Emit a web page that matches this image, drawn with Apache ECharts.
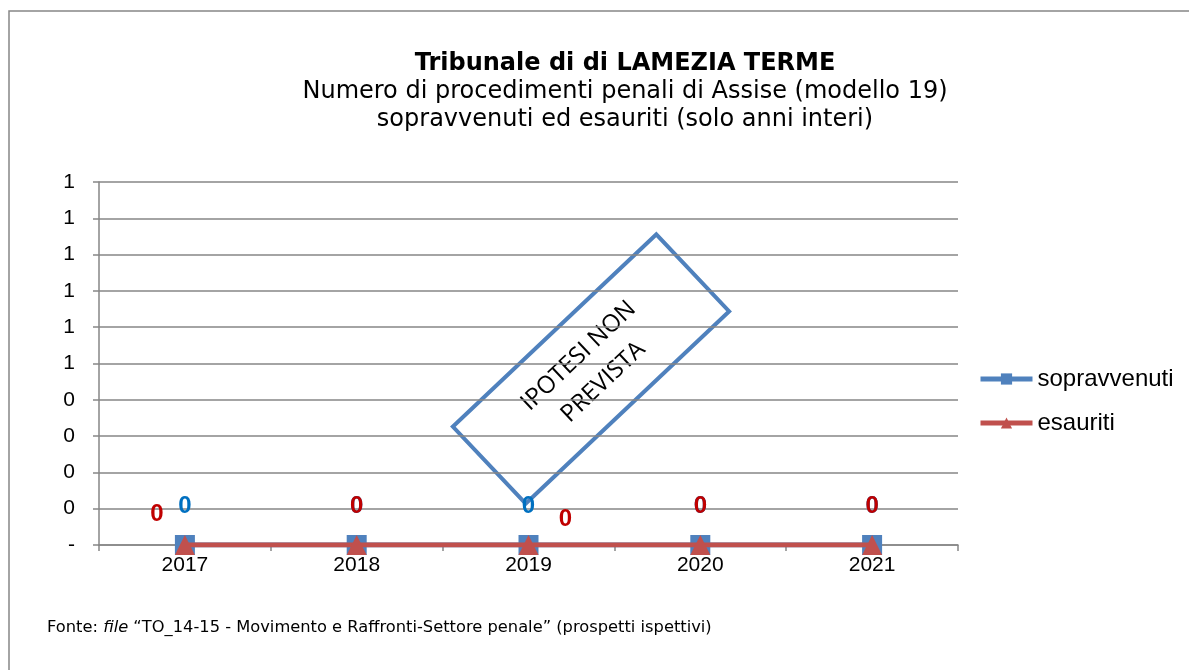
<!DOCTYPE html>
<html>
<head>
<meta charset="utf-8">
<script src="https://cdn.jsdelivr.net/npm/echarts@6/dist/echarts.min.js"></script>
<style>
html,body{margin:0;padding:0;background:#fff;}
#chart{width:1189px;height:670px;}
</style>
</head>
<body>
<div id="chart"></div>
<script>
// data
const years=["2017","2018","2019","2020","2021"];
const sopravvenuti=[0,0,0,0,0];
const esauriti=[0,0,0,0,0];

const titleText="Tribunale di di LAMEZIA TERME";
const subText="Numero di procedimenti penali di Assise (modello 19)\nsopravvenuti ed esauriti (solo anni interi)";
const boxText="IPOTESI NON\nPREVISTA";

const BLUE="#4F81BD";
const RED="#C0504D";
const LBL_BLUE="#0070C0";
const LBL_RED="#C00000";
const GRAY="#868686";
const ARIAL="Liberation Sans";

// label offsets for the esauriti values, per year
const redOffsets=[[-28,8],[0,0],[37,13],[0,0],[0,0]];

const chart=echarts.init(document.getElementById("chart"));

chart.setOption({
    animation:false,
    textStyle:{fontFamily:ARIAL},
    title:[
        {
            text:titleText,
            left:625,
            top:50,
            textAlign:"center",
            padding:0,
            textStyle:{fontFamily:"DejaVu Sans",fontWeight:"bold",fontSize:24,lineHeight:28,color:"#000"}
        },
        {
            text:subText,
            left:625,
            top:78,
            textAlign:"center",
            padding:0,
            textStyle:{fontFamily:"DejaVu Sans",fontWeight:"normal",fontSize:24,lineHeight:28,color:"#000"}
        }
    ],
    legend:{
        orient:"vertical",
        left:978,
        top:367,
        padding:0,
        itemGap:20,
        itemWidth:52,
        itemHeight:14,
        lineStyle:{width:5},
        textStyle:{fontSize:24,color:"#000",fontFamily:ARIAL},
        data:["sopravvenuti","esauriti"]
    },
    grid:{left:99,right:231,top:182,bottom:125},
    xAxis:{
        type:"category",
        data:years,
        boundaryGap:true,
        axisLine:{lineStyle:{color:GRAY,width:1.5}},
        axisTick:{show:true,length:6,lineStyle:{color:GRAY,width:1.5}},
        axisLabel:{color:"#000",fontSize:21,margin:10,fontFamily:ARIAL}
    },
    yAxis:{
        type:"value",
        min:0,
        max:1,
        interval:0.1,
        axisLine:{show:true,lineStyle:{color:GRAY,width:1.5}},
        axisTick:{show:true,length:6,lineStyle:{color:GRAY,width:1.5}},
        splitLine:{lineStyle:{color:GRAY,width:1.5}},
        axisLabel:{
            color:"#000",
            fontSize:21,
            margin:24,
            fontFamily:ARIAL,
            formatter:v=>v===0?"-":String(Math.round(v))
        }
    },
    series:[
        {
            name:"sopravvenuti",
            type:"line",
            data:sopravvenuti,
            symbol:"rect",
            symbolSize:20,
            itemStyle:{color:BLUE},
            lineStyle:{color:BLUE,width:5},
            label:{
                show:true,
                position:"top",
                distance:17,
                color:LBL_BLUE,
                fontWeight:"bold",
                fontSize:24,
                fontFamily:ARIAL
            },
            z:2
        },
        {
            name:"esauriti",
            type:"line",
            data:esauriti.map((v,i)=>({
                value:v,
                label:{offset:redOffsets[i]}
            })),
            symbol:"triangle",
            symbolSize:20,
            itemStyle:{color:RED},
            lineStyle:{color:RED,width:5},
            label:{
                show:true,
                position:"top",
                distance:17,
                color:LBL_RED,
                fontWeight:"bold",
                fontSize:24,
                fontFamily:ARIAL
            },
            z:3
        }
    ],
    graphic:[
        {
            type:"rect",
            x:9,
            y:11,
            shape:{x:0,y:0,width:1300,height:800},
            style:{fill:"none",stroke:GRAY,lineWidth:1.5},
            silent:true,
            z:-1
        },
        {
            type:"group",
            x:591,
            y:369,
            rotation:43.4*Math.PI/180,
            z:100,
            children:[
                {
                    type:"rect",
                    shape:{x:-140,y:-53,width:280,height:106},
                    style:{fill:"#fff",stroke:BLUE,lineWidth:4}
                },
                {
                    type:"text",
                    x:0,
                    y:0,
                    style:{
                        text:boxText,
                        fill:"#000",
                        fontSize:24,
                        lineHeight:36,
                        fontFamily:"Open Sans",
                        align:"center",
                        verticalAlign:"middle"
                    }
                }
            ]
        },
        {
            type:"text",
            x:47,
            y:620,
            style:{
                rich:{
                    n:{fontFamily:"DejaVu Sans",fontSize:16.3,fill:"#000"},
                    i:{fontFamily:"DejaVu Sans",fontSize:16.3,fontStyle:"italic",fill:"#000"}
                },
                text:"{n|Fonte: }{i|file}{n| \u201CTO_14-15 - Movimento e Raffronti-Settore penale\u201D (prospetti ispettivi)}"
            }
        }
    ]
});

window.addEventListener("resize",()=>chart.resize());
</script>
</body>
</html>
